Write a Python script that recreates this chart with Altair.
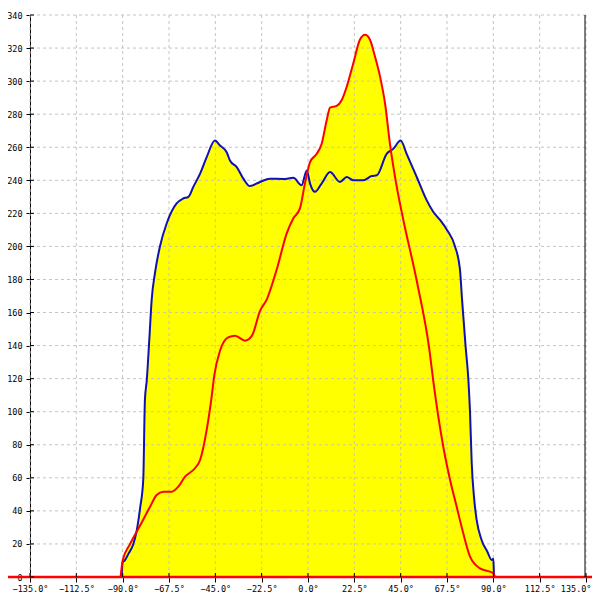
import altair as alt
import pandas as pd

blue_deg = [-90.5, -90, -89, -87.2, -84.8, -83.2, -81.5, -80, -79.2, -78.3, -77, -75.9, -74.3, -71.9, -68.6,
            -63.8, -60.6, -58.1, -55.7, -52.4, -49.2, -45.2, -42.7, -39.5, -37.9, -34.6, -31.4, -28.2,
            -23.3, -18.5, -12, -7.1, -3.1, -0.6, 1, 3.4, 6.6, 10.7, 15.5, 18.8, 22, 26.9, 30.9, 33.4,
            38.2, 41.4, 45, 47.9, 52.8, 57.6, 60.8, 64.1, 67.5, 71.4, 73.8, 74.8, 76.5, 77.9, 78.7,
            79.5, 80.6, 81.9, 84.3, 87.1, 89.2, 90, 90.3, 90.5]
blue_val = [0, 9, 10, 14, 20, 28, 42, 59, 107, 119, 145, 168, 184, 200, 214,
            226, 229, 230, 236, 244, 254, 264, 261, 257, 252, 248, 241, 236.5,
            239, 241, 240.8, 241.5, 237, 246, 238, 233, 238, 245, 239, 242, 240, 240, 242.6, 243,
            256, 259, 264, 256, 242, 228, 221, 216, 210, 200, 186, 168, 140, 119, 99,
            69, 48.6, 34.5, 22.4, 15.3, 10.3, 11, 2, 0]

red_deg = [-91, -90, -86.4, -81.6, -76.7, -73.5, -70.3, -66.2, -63, -59.7, -54.9, -52.4, -49.2, -46.8,
           -45.5, -42.7, -38.8, -35.4, -30.6, -27.2, -23.3, -20, -15.2, -10.3, -7.1, -3.9, -1.5, 1,
           4.2, 6.6, 9.1, 10.7, 13.9, 16.4, 18.8, 22, 25.2, 27.7, 30.1, 32.5, 35, 37.4, 39.8, 43.1,
           46.3, 53, 59, 60.8, 65.7, 69, 72.2, 75.4, 78.7, 83.5, 88.4, 90.3, 90.6]
red_val = [0, 10, 20, 31, 42.5, 49.6, 51.6, 51.6, 54.6, 60.7, 65.8, 70.8, 89, 109,
           122, 137, 145, 146, 143, 146, 161, 168, 186, 208, 217, 223, 238, 251,
           256, 262, 276.5, 284, 285, 288.6, 296.6, 310.8, 325, 328, 325, 315, 302.7, 286.6, 262, 236,
           216, 178, 137, 119, 78.8, 58.7, 42.5, 26.4, 12.3, 5.2, 3.2, 2, 0]

x_ticks = [-135, -112.5, -90, -67.5, -45, -22.5, 0, 22.5, 45, 67.5, 90, 112.5, 135]
y_ticks = list(range(0, 341, 20))

W, H = 556, 562
FONT = "DejaVu Sans Mono"

xs = alt.Scale(domain=[-135, 135], nice=False, zero=False)
ys = alt.Scale(domain=[0, 340], nice=False)

blue_df = pd.DataFrame({"deg": blue_deg, "val": blue_val})
red_df = pd.DataFrame({"deg": red_deg, "val": red_val})
xt_df = pd.DataFrame({"t": x_ticks})
yt_df = pd.DataFrame({"t": y_ticks})

x_axis = alt.Axis(values=x_ticks, labelExpr="format(datum.value, '.1f') + '°'", grid=False,
                  domainColor="black", tickColor="black", tickSize=5, labelFont=FONT,
                  labelFontSize=8.5, labelColor="black", labelPadding=2, title=None,
                  labelFlush=False, labelOverlap=False,
                  labelAlign=alt.condition("datum.value >= 135", alt.value("right"), alt.value("center")),
                  labelOffset=alt.condition("datum.value >= 135", alt.value(5), alt.value(0)))
y_axis = alt.Axis(values=y_ticks, grid=False, domainColor="black", tickColor="black", tickSize=4,
                  labelFont=FONT, labelFontSize=8.5, labelColor="black", labelPadding=4, title=None,
                  labelFlush=False, labelOverlap=False)


def X(f):
    return alt.X(f, scale=xs, axis=x_axis, title=None)


def Y(f):
    return alt.Y(f, scale=ys, axis=y_axis, title=None)


INTERP = "monotone"

area_blue = alt.Chart(blue_df).mark_area(color="#FFFF00", opacity=1, interpolate=INTERP).encode(x=X("deg:Q"), y=Y("val:Q"))
area_red = alt.Chart(red_df).mark_area(color="#FFFF00", opacity=1, interpolate=INTERP).encode(x=X("deg:Q"), y=Y("val:Q"))
grid_x = alt.Chart(xt_df).mark_rule(color="#c4c4c4", strokeDash=[3, 3], strokeWidth=1).encode(x=X("t:Q"))
grid_y = alt.Chart(yt_df).mark_rule(color="#c4c4c4", strokeDash=[3, 3], strokeWidth=1).encode(y=Y("t:Q"))
line_blue = alt.Chart(blue_df).mark_line(color="#1010B4", strokeWidth=2, interpolate=INTERP).encode(x=X("deg:Q"), y=Y("val:Q"))
line_red = alt.Chart(red_df).mark_line(color="#FF0000", strokeWidth=2, interpolate=INTERP).encode(x=X("deg:Q"), y=Y("val:Q"))
baseline = alt.Chart(pd.DataFrame({"t": [0]})).mark_rule(color="#FF0000", strokeWidth=2.5).encode(
    y=Y("t:Q"), x=alt.value(-30), x2=alt.value(W + 30)
)
right_border = alt.Chart(pd.DataFrame({"t": [0]})).mark_rule(color="black", strokeWidth=1).encode(
    x=alt.value(W - 1), y=alt.value(0), y2=alt.value(H)
)
in_ticks_y = alt.Chart(yt_df).mark_rule(color="black", strokeWidth=1).encode(
    y=Y("t:Q"), x=alt.value(0), x2=alt.value(4)
)
in_ticks_x = alt.Chart(xt_df).mark_rule(color="black", strokeWidth=1).encode(
    x=X("t:Q"), y=alt.value(H), y2=alt.value(H - 4)
)

chart = alt.layer(
    area_blue, area_red, grid_x, grid_y, line_blue, line_red, baseline, right_border,
    in_ticks_y, in_ticks_x
).properties(
    width=W, height=H, autosize=alt.AutoSizeParams(type="none"),
    padding={"left": 22, "top": 7, "right": 6, "bottom": 15},
).configure_view(stroke=None)

chart.save("out.html", embed_options={"renderer": "svg", "actions": False})
